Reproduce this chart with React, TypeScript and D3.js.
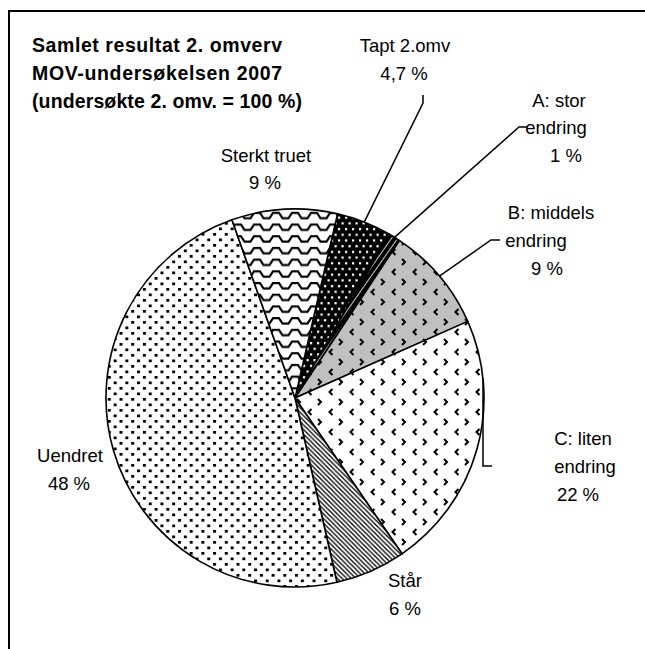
import React from "react";
import * as d3 from "d3";

const categories = ["Tapt 2.omv", "A: stor endring", "B: middels endring", "C: liten endring", "Står", "Uendret", "Sterkt truet"];
const values = [4.7, 1, 9, 22, 6, 48, 9];
const valueLabels = ["4,7 %", "1 %", "9 %", "22 %", "6 %", "48 %", "9 %"];
const patterns = ["pTapt", "pA", "pB", "pC", "pStar", "pUendret", "pWave"];
const titleLines = ["Samlet resultat 2. omverv", "MOV-undersøkelsen 2007", "(undersøkte 2. omv. = 100 %)"];
const titleWidths = [250, 250, 270];

const W = 645, H = 649;
const cx = 295, cy = 398, R = 189;
const startDeg = 13;
const FONT = "Liberation Sans, Arial, sans-serif";

export default function App() {
  const pie = d3.pie<number>().sort(null).value(d => d)
    .startAngle((startDeg * Math.PI) / 180)
    .endAngle((startDeg * Math.PI) / 180 + 2 * Math.PI);
  const arcs = pie(values);
  const arc = d3.arc<d3.PieArcDatum<number>>().innerRadius(0).outerRadius(R);
  const edge = (i: number) => {
    const a = (arcs[i].startAngle + arcs[i].endAngle) / 2;
    return [cx + R * Math.sin(a), cy - R * Math.cos(a)];
  };
  const line = d3.line();
  const [tx, ty] = edge(0);
  const [ax, ay] = edge(1);
  const [bx, by] = edge(2);
  const cX = 483;
  const cY = cy - Math.sqrt(R * R - (cX - cx) * (cX - cx));

  const t = { fontFamily: FONT, fontSize: 18.5, fill: "#000" } as const;
  const chev = "M2,1 l3,3 l-3,3";
  const chevL = "M16.5,11 l-3,3 l3,3";

  return (
    <svg width={W} height={H} style={{ position: "absolute", left: 0, top: 0, background: "#fff" }}>
      <defs>
        <pattern id="pUendret" patternUnits="userSpaceOnUse" width={11.7} height={11}>
          <rect width={11.7} height={11} fill="#fff" />
          <rect x={0} y={0} width={3} height={2.7} fill="#000" />
          <rect x={5.85} y={5.5} width={3} height={2.7} fill="#000" />
        </pattern>
        <pattern id="pWave" patternUnits="userSpaceOnUse" width={19} height={11.7}>
          <rect width={19} height={11.7} fill="#fff" />
          <path d="M-1,2 L3,2 L6.5,7.5 L12.5,7.5 L16,2 L20,2" stroke="#000" strokeWidth={2.1} fill="none" />
        </pattern>
        <pattern id="pTapt" patternUnits="userSpaceOnUse" width={14} height={11.4}>
          <rect width={14} height={11.4} fill="#000" />
          <rect x={1} y={1} width={2.2} height={2.2} fill="#fff" />
          <rect x={8} y={1} width={2.2} height={2.2} fill="#fff" />
          <rect x={4.5} y={6.7} width={2.2} height={2.2} fill="#fff" />
          <rect x={11.5} y={6.7} width={2.2} height={2.2} fill="#fff" />
        </pattern>
        <pattern id="pA" patternUnits="userSpaceOnUse" width={5} height={5} patternTransform="rotate(-55)">
          <rect width={5} height={5} fill="#000" />
          <line x1={0} y1={2.5} x2={5} y2={2.5} stroke="#fff" strokeWidth={0.8} />
        </pattern>
        <pattern id="pB" patternUnits="userSpaceOnUse" width={21} height={20}>
          <rect width={21} height={20} fill="#c0c0c0" />
          <path d={chev} stroke="#000" strokeWidth={2} fill="none" />
          <path d={chevL} stroke="#000" strokeWidth={2} fill="none" />
        </pattern>
        <pattern id="pC" patternUnits="userSpaceOnUse" width={21} height={20}>
          <rect width={21} height={20} fill="#fff" />
          <path d={chev} stroke="#000" strokeWidth={2} fill="none" />
          <path d={chevL} stroke="#000" strokeWidth={2} fill="none" />
        </pattern>
        <pattern id="pStar" patternUnits="userSpaceOnUse" width={4.6} height={4.6}>
          <rect width={4.6} height={4.6} fill="#fff" />
          <path d="M-1,-1 L5.6,5.6 M-1,3.6 L1,5.6 M3.6,-1 L5.6,1" stroke="#000" strokeWidth={1.3} />
        </pattern>
      </defs>

      <rect x={9} y={11} width={700} height={700} fill="none" stroke="#000" strokeWidth={2} />

      {titleLines.map((s, i) => (
        <text key={i} x={32} y={52 + i * 28} fontFamily={FONT} fontSize={19.5} fontWeight="bold"
          textLength={titleWidths[i]} lengthAdjust="spacing">{s}</text>
      ))}

      <g transform={`translate(${cx},${cy})`}>
        {arcs.map((a, i) => (
          <path key={categories[i]} d={arc(a) || ""} fill={`url(#${patterns[i]})`} stroke="#000" strokeWidth={1.6} strokeLinejoin="round" />
        ))}
      </g>

      <path d={line([[423, 95], [423, 103], [tx, ty]]) || ""} fill="none" stroke="#000" strokeWidth={1.5} />
      <path d={line([[527, 127], [519, 127], [ax, ay]]) || ""} fill="none" stroke="#000" strokeWidth={1.5} />
      <path d={line([[500, 240], [491, 240], [bx, by]]) || ""} fill="none" stroke="#000" strokeWidth={1.5} />
      <path d={line([[492, 466], [cX, 466], [cX, cY]]) || ""} fill="none" stroke="#000" strokeWidth={1.5} />

      <g textAnchor="middle">
        <text x={405} y={52} {...t}>Tapt 2.omv</text>
        <text x={404} y={80} {...t}>{valueLabels[0]}</text>

        <text x={559} y={107} {...t}>A: stor</text>
        <text x={556} y={134} {...t}>endring</text>
        <text x={566} y={162} {...t}>{valueLabels[1]}</text>

        <text x={551} y={219} {...t}>B: middels</text>
        <text x={536} y={247} {...t}>endring</text>
        <text x={547} y={275} {...t}>{valueLabels[2]}</text>

        <text x={583} y={445} {...t}>C: liten</text>
        <text x={585} y={473} {...t}>endring</text>
        <text x={578} y={501} {...t}>{valueLabels[3]}</text>

        <text x={405} y={587} {...t}>{categories[4]}</text>
        <text x={405} y={615} {...t}>{valueLabels[4]}</text>

        <text x={70} y={462} {...t}>{categories[5]}</text>
        <text x={69} y={490} {...t}>{valueLabels[5]}</text>

        <text x={266} y={162} {...t}>{categories[6]}</text>
        <text x={265} y={189} {...t}>{valueLabels[6]}</text>
      </g>
    </svg>
  );
}
